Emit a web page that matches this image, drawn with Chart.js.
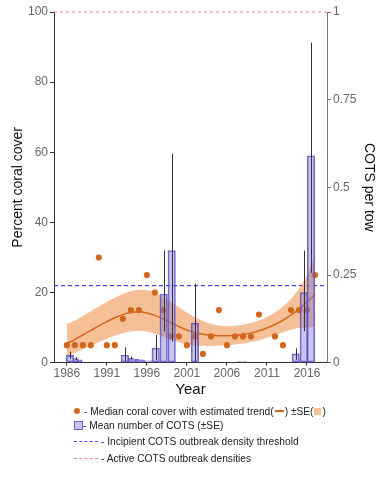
<!DOCTYPE html>
<html>
<head>
<meta charset="utf-8">
<script src="https://cdn.jsdelivr.net/npm/chart.js@4"></script>
<style>
  body { margin: 0; background: #fff; font-family: "Liberation Sans", Arial, sans-serif; }
  #wrap { position: relative; width: 389px; height: 480px; }
  .lg { position: absolute; left: 74px; font-size: 10.2px; color: #222; white-space: nowrap; line-height: 14px; }
  .dot { display: inline-block; width: 6px; height: 6px; border-radius: 50%; background: #d4661c; margin-right: 4px; vertical-align: 1px; }
  .dash { display: inline-block; width: 9px; height: 2px; background: #d4661c; vertical-align: 3px; margin: 0 1px; }
  .sw { display: inline-block; width: 7px; height: 7px; background: #f5c39c; vertical-align: 0; margin: 0 1px; }
  .sq { display: inline-block; width: 7px; height: 7px; background: #c8c4ee; border: 1px solid #6a62c8; vertical-align: -1px; }
  .dl { display: inline-block; width: 24px; height: 0; border-top: 1px dashed; vertical-align: 3px; margin-right: 3px; }
</style>
</head>
<body>
<div id="wrap">
  <canvas id="c"></canvas>
  <div class="lg" style="top:405px"><span class="dot"></span>- Median coral cover with estimated trend(<span class="dash"></span>) ±SE(<span class="sw"></span>)</div>
  <div class="lg" style="top:419px"><span class="sq"></span>- Mean number of COTS (±SE)</div>
  <div class="lg" style="top:435px"><span class="dl" style="border-color:#4a4aff"></span>- Incipient COTS outbreak density threshold</div>
  <div class="lg" style="top:452px"><span class="dl" style="border-color:#ee8a8e"></span>- Active COTS outbreak densities</div>
</div>
<script>
// ── Data ────────────────────────────────────────────────────────────
const xTicks = [1986, 1991, 1996, 2001, 2006, 2011, 2016];
const leftTicks = [0, 20, 40, 60, 80, 100];
const rightTicks = [0, 0.25, 0.5, 0.75, 1];

// median coral cover (%)
const coralYears = [1986, 1987, 1988, 1989, 1990, 1991, 1992, 1993, 1994, 1995, 1996, 1997, 1998, 1999, 2000,
  2001, 2002, 2003, 2004, 2005, 2006, 2007, 2008, 2009, 2010, 2012, 2013, 2014, 2015, 2016, 2017];
const coralCover = [5, 5, 5, 5, 30, 5, 5, 12.5, 15, 15, 25, 20, 15, 7.5, 7.5,
  5, 7.5, 2.5, 7.5, 15, 5, 7.5, 7.5, 7.5, 13.75, 7.5, 5, 15, 15, 15, 25];

// estimated trend and ±SE band
const trendYears = [1986, 1987, 1988, 1989, 1990, 1991, 1992, 1993, 1994, 1995, 1996, 1997, 1998, 1999, 2000, 2001,
  2002, 2003, 2004, 2005, 2006, 2007, 2008, 2009, 2010, 2011, 2012, 2013, 2014, 2015, 2016, 2017];
const trend = [5.5, 6.6, 7.9, 9.2, 10.5, 11.7, 12.8, 13.7, 14.3, 14.5, 14.2, 13.5, 12.5, 11.4, 10.3, 9.3,
  8.6, 8.1, 7.8, 7.7, 7.7, 7.8, 8.1, 8.5, 9.1, 9.9, 10.9, 12.1, 13.6, 15.3, 17.3, 19.6];
const trendUpper = [11, 12, 13.3, 14.7, 16, 17.3, 18.5, 19.6, 20.4, 20.8, 20.7, 20, 18.8, 17.3, 15.8, 14.3,
  13, 11.9, 11.1, 10.6, 10.4, 10.5, 10.8, 11.3, 12, 13, 14.3, 16, 18.2, 21, 25, 31];
const trendLower = [2, 2.8, 3.8, 4.8, 5.8, 6.8, 7.7, 8.4, 8.9, 9.1, 8.9, 8.3, 7.5, 6.6, 5.8, 5.2,
  4.9, 4.8, 4.8, 4.9, 5, 5.2, 5.5, 5.9, 6.4, 7.1, 7.9, 8.7, 9.4, 9.9, 10.1, 10.2];

// mean COTS per tow (±SE)
const cotsYears = [1986.4, 1987.1, 1987.6, 1993.25, 1994.0, 1994.7, 1995.4, 1996.2, 1997.1, 1998.1, 1999.1,
  2002.0, 2007.9, 2014.6, 2015.6, 2016.5];
const cotsMean = [0.021, 0.012, 0.008, 0.022, 0.013, 0.01, 0.008, 0.005, 0.042, 0.196, 0.32,
  0.113, 0.003, 0.025, 0.2, 0.59];
const cotsLow = [0.011, 0.008, 0.008, 0.003, 0.009, 0.01, 0.008, 0.005, 0.008, 0.09, 0.06,
  0.003, 0.003, 0.008, 0.09, 0.256];
const cotsHigh = [0.031, 0.016, 0.008, 0.044, 0.017, 0.01, 0.008, 0.005, 0.079, 0.32, 0.596,
  0.225, 0.003, 0.041, 0.32, 0.913];

const incipientLevel = 22;   // % axis (= 0.22 COTS per tow)
const activeLevel = 100;     // % axis (= 1 COTS per tow)
const xMin = 1984.4, xMax = 2018.5;

// narrow bars in the early clusters (style only)
const narrowIdx = [1, 2, 4, 5, 6];

// ── Helpers ─────────────────────────────────────────────────────────
const pts = (xs, ys) => xs.map((x, i) => ({ x, y: ys[i] }));
const barPts = (keep) => cotsYears.map((x, i) => ({ x, y: cotsMean[i] })).filter((p, i) => keep(i));

const errorBars = {
  id: 'errorBars',
  afterDatasetsDraw(chart) {
    const { ctx, scales: { x, y2 } } = chart;
    ctx.save();
    ctx.strokeStyle = '#333';
    ctx.lineWidth = 1;
    cotsYears.forEach((yr, i) => {
      if (cotsHigh[i] - cotsLow[i] < 0.002) return;
      const px = Math.round(x.getPixelForValue(yr)) + 0.5;
      ctx.beginPath();
      ctx.moveTo(px, y2.getPixelForValue(cotsHigh[i]));
      ctx.lineTo(px, y2.getPixelForValue(cotsLow[i]));
      ctx.stroke();
    });
    ctx.restore();
  }
};

const tickFont = { family: '"Liberation Sans", Arial, sans-serif', size: 12 };
const titleFont = { family: '"Liberation Sans", Arial, sans-serif', size: 14 };

const barStyle = {
  type: 'bar',
  yAxisID: 'y2',
  backgroundColor: 'rgba(125,115,215,0.42)',
  borderColor: 'rgba(90,80,195,0.85)',
  borderWidth: 1,
  borderSkipped: false,
  grouped: false,
  order: 0,
};

new Chart(document.getElementById('c'), {
  data: {
    datasets: [
      { ...barStyle, data: barPts(i => !narrowIdx.includes(i)), barThickness: 7.5 },
      { ...barStyle, data: barPts(i => narrowIdx.includes(i)), barThickness: 5 },
      {
        type: 'scatter', data: pts(coralYears, coralCover), yAxisID: 'y',
        pointRadius: 3.1, pointBackgroundColor: '#d4661c', pointBorderWidth: 0, order: 1,
      },
      {
        type: 'line', data: pts(trendYears, trend), yAxisID: 'y',
        borderColor: '#d4661c', borderWidth: 1.5, pointRadius: 0, tension: 0.4, fill: false, order: 2,
      },
      {
        type: 'line', data: pts(trendYears, trendUpper), yAxisID: 'y',
        borderWidth: 0, pointRadius: 0, tension: 0.4,
        fill: '+1', backgroundColor: 'rgba(238,150,82,0.6)', order: 3,
      },
      {
        type: 'line', data: pts(trendYears, trendLower), yAxisID: 'y',
        borderWidth: 0, pointRadius: 0, tension: 0.4, fill: false, order: 3,
      },
      {
        type: 'line', data: pts([xMin, xMax], [incipientLevel, incipientLevel]), yAxisID: 'y',
        borderColor: '#4444ff', backgroundColor: '#4444ff', borderWidth: 1.2, borderDash: [4, 3],
        pointRadius: 0, fill: false, order: 5,
      },
      {
        type: 'line', data: pts([xMin, xMax], [activeLevel, activeLevel]), yAxisID: 'y',
        borderColor: '#ee8a8e', borderWidth: 1, borderDash: [3, 3], pointRadius: 0, clip: false, order: 5,
      },
    ],
  },
  plugins: [errorBars],
  options: {
    responsive: true,
    maintainAspectRatio: false,
    animation: false,
    layout: { padding: { top: 12, bottom: 77.3, left: 6, right: 8 } },
    plugins: { legend: { display: false }, tooltip: { enabled: false } },
    scales: {
      x: {
        type: 'linear', min: xMin, max: xMax, offset: false,
        afterBuildTicks: s => { s.ticks = xTicks.map(v => ({ value: v })); },
        afterFit: s => { s.height = 40; },
        grid: { drawOnChartArea: false, tickLength: 3, color: '#333', offset: false },
        border: { color: '#333', width: 1 },
        ticks: { color: '#666', font: tickFont, padding: 1, maxRotation: 0, callback: v => String(v) },
        title: { display: true, text: 'Year', color: '#111', font: { ...titleFont, size: 15 }, padding: { top: 0, bottom: 4 } },
      },
      y: {
        position: 'left', min: 0, max: 100,
        afterBuildTicks: s => { s.ticks = leftTicks.map(v => ({ value: v })); },
        afterFit: s => { s.width = 48; },
        grid: { drawOnChartArea: false, tickLength: 4, color: '#333' },
        border: { color: '#333', width: 1 },
        ticks: { color: '#666', font: tickFont, padding: 2 },
        title: { display: true, text: 'Percent coral cover', color: '#111', font: titleFont, padding: 4 },
      },
      y2: {
        position: 'right', min: 0, max: 1,
        afterBuildTicks: s => { s.ticks = rightTicks.map(v => ({ value: v })); },
        afterFit: s => { s.width = 54; },
        grid: { drawOnChartArea: false, tickLength: 4, color: '#777' },
        border: { color: '#777', width: 1 },
        ticks: { color: '#666', font: tickFont, padding: 2, callback: v => String(v) },
        title: { display: true, text: 'COTS per tow', color: '#111', font: titleFont, padding: 4 },
      },
    },
  },
});
</script>
</body>
</html>
